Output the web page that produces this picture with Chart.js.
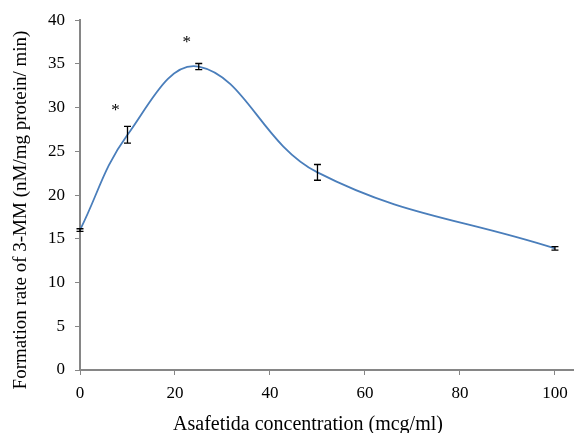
<!DOCTYPE html>
<html>
<head>
<meta charset="utf-8">
<script src="https://cdn.jsdelivr.net/npm/chart.js@4.4.1/dist/chart.umd.min.js"></script>
<style>
  html, body { margin: 0; padding: 0; background: #fff; }
</style>
</head>
<body>
<canvas id="myChart" width="578" height="433"></canvas>
<script>
// values
const concentrations = [0, 10, 25, 50, 100];
const formationRates = [16.0, 26.9, 34.7, 22.6, 13.9];
const errors = [0.15, 0.95, 0.35, 0.9, 0.2];
// significance markers
const starX = [7.5, 22.5];
const starY = [30.0, 37.8];

const xTitle = 'Asafetida concentration (mcg/ml)';
const yTitle = 'Formation rate of 3-MM (nM/mg protein/ min)';

const axisGrey = '#868686';
const serif = "'Liberation Serif', 'Times New Roman', serif";

// error bars, asterisks and axis titles
const extras = {
    id: 'extras',
    afterDatasetsDraw(chart) {
        const ctx = chart.ctx;
        const xs = chart.scales.x, ys = chart.scales.y;
        ctx.save();
        ctx.strokeStyle = '#000';
        ctx.lineWidth = 1.3;
        concentrations.forEach((c, i) => {
            const px = xs.getPixelForValue(c);
            const top = ys.getPixelForValue(formationRates[i] + errors[i]);
            const bot = ys.getPixelForValue(formationRates[i] - errors[i]);
            ctx.beginPath();
            ctx.moveTo(px, top); ctx.lineTo(px, bot);
            ctx.moveTo(px - 3.5, top); ctx.lineTo(px + 3.5, top);
            ctx.moveTo(px - 3.5, bot); ctx.lineTo(px + 3.5, bot);
            ctx.stroke();
        });
        ctx.fillStyle = '#000';
        ctx.font = '17px ' + serif;
        ctx.textAlign = 'center';
        ctx.textBaseline = 'middle';
        starX.forEach((sx, i) => {
            ctx.fillText('*', xs.getPixelForValue(sx), ys.getPixelForValue(starY[i]) + 3);
        });

        ctx.textBaseline = 'alphabetic';
        ctx.font = '20px ' + serif;
        ctx.fillText(xTitle, 308, 430);
        ctx.font = '19px ' + serif;
        ctx.translate(25.5, 210);
        ctx.rotate(-Math.PI / 2);
        ctx.fillText(yTitle, 0, 0);
        ctx.restore();
    }
};

const ctx = document.getElementById('myChart').getContext('2d');
const myChart = new Chart(ctx, {
    type: 'scatter',
    data: {
        datasets: [{
            data: concentrations.map((c, i) => ({ x: c, y: formationRates[i] })),
            showLine: true,
            borderColor: '#4a7ebb',
            borderWidth: 1.8,
            pointRadius: 0,
            tension: 0.4,
            fill: false
        }]
    },
    options: {
        responsive: false,
        animation: false,
        layout: { padding: { top: 19, right: 5, left: 0, bottom: 0 } },
        plugins: {
            legend: { display: false },
            tooltip: { enabled: false }
        },
        scales: {
            x: {
                type: 'linear',
                min: 0,
                max: 103.8,
                ticks: {
                    stepSize: 20,
                    includeBounds: false,
                    color: '#000',
                    font: { family: serif, size: 17 },
                    padding: 8
                },
                grid: { drawOnChartArea: false, color: axisGrey, tickLength: 5 },
                border: { color: axisGrey, width: 2 },
                afterFit(scale) { scale.height = 63; }
            },
            y: {
                min: 0,
                max: 40,
                ticks: {
                    stepSize: 5,
                    color: '#000',
                    font: { family: serif, size: 17 },
                    padding: 10
                },
                grid: { drawOnChartArea: false, color: axisGrey, tickLength: 5 },
                border: { color: axisGrey, width: 2 },
                afterFit(scale) { scale.width = 80; }
            }
        }
    },
    plugins: [extras]
});
</script>
</body>
</html>
